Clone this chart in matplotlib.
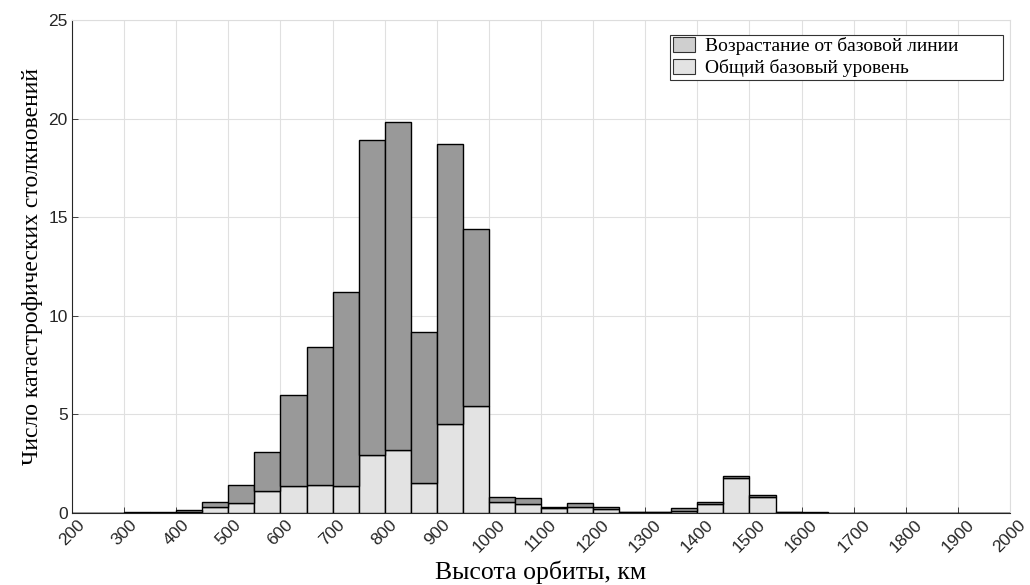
import matplotlib
matplotlib.use("Agg")
import matplotlib.pyplot as plt
import numpy as np
from matplotlib.patches import Patch, Rectangle

bin_left = list(range(200, 2000, 50))
total = [0.01, 0.02, 0.03, 0.05, 0.15, 0.55, 1.4, 3.1, 6.0, 8.4, 11.2, 18.9, 19.85, 9.2, 18.7, 14.4,
         0.82, 0.76, 0.29, 0.49, 0.29, 0.06, 0.05, 0.26, 0.58, 1.9, 0.9, 0.05, 0.03, 0.02, 0.02, 0.02,
         0.02, 0.02, 0.02, 0.02]
base = [0.005, 0.01, 0.01, 0.02, 0.06, 0.3, 0.5, 1.1, 1.35, 1.41, 1.36, 2.95, 3.19, 1.53, 4.53, 5.43,
        0.58, 0.46, 0.26, 0.32, 0.2, 0.03, 0.03, 0.1, 0.46, 1.75, 0.8, 0.03, 0.02, 0.01, 0.01, 0.01,
        0.01, 0.01, 0.01, 0.01]
increase = [t - b for t, b in zip(total, base)]
xticks = list(range(200, 2001, 100))
yticks = [0, 5, 10, 15, 20, 25]

W, H = 1030, 585
fig = plt.figure(figsize=(W / 100, H / 100), dpi=100)
ax = fig.add_axes([0.0699, 0.1231, 0.9107, 0.8427])

ax.bar(bin_left, base, width=50, align='edge', color='#e3e3e3', edgecolor='black', linewidth=1.0, zorder=3)
ax.bar(bin_left, increase, bottom=base, width=50, align='edge', color='#999999', edgecolor='black', linewidth=1.0, zorder=3)

ax.set_xlim(200, 2000)
ax.set_ylim(0, 25)
ax.set_xticks(xticks)
ax.set_yticks(yticks)
ax.set_xticklabels([str(v) for v in xticks], rotation=45, ha='center', va='top',
                   fontsize=12.5, family='Liberation Sans')
ax.set_yticklabels([str(v) for v in yticks], fontsize=12.5, family='Liberation Sans')
ax.tick_params(direction='in', length=4, width=0.6, colors='#262626', pad=3)
ax.grid(True, color='#e0e0e0', linewidth=0.8, zorder=0)
ax.set_axisbelow(True)
for s in ['top', 'right']:
    ax.spines[s].set_color('#dddddd')
for s in ['left', 'bottom']:
    ax.spines[s].set_color('#262626')
    ax.spines[s].set_linewidth(0.8)

ax.set_xlabel('Высота орбиты, км', family='Liberation Serif', fontsize=18.5, labelpad=4)
ax.set_ylabel('Число катастрофических столкновений', family='Liberation Serif', fontsize=17, labelpad=4)

# legend frame (drawn manually to match wide box)
fx0, fx1, fy0, fy1 = 670 / W, 1003 / W, 1 - 80 / H, 1 - 35 / H
frame = Rectangle((fx0, fy0), fx1 - fx0, fy1 - fy0, transform=fig.transFigure,
                  facecolor='white', edgecolor='#333333', linewidth=0.8, zorder=10)
fig.patches.append(frame)

handles = [Patch(facecolor='#cfcfcf', edgecolor='#333333', linewidth=0.8, label='Возрастание от базовой линии'),
           Patch(facecolor='#e3e3e3', edgecolor='#333333', linewidth=0.8, label='Общий базовый уровень')]
leg = fig.legend(handles=handles, loc='upper left', bbox_to_anchor=(fx0, fy1 + 0.002),
                 prop={'family': 'Liberation Serif', 'size': 14}, frameon=False,
                 handlelength=1.15, handleheight=0.8, handletextpad=0.5, borderpad=0.15, labelspacing=0.22,
                 borderaxespad=0.0)
leg.set_zorder(11)

fig.savefig('out.png', dpi=100)
